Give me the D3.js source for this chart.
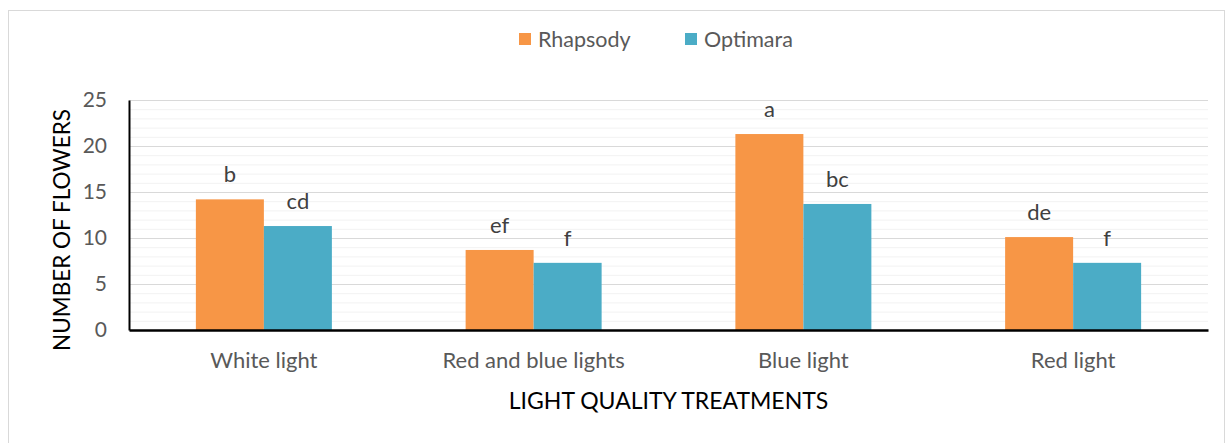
<!DOCTYPE html>
<html><head><meta charset="utf-8">
<script src="https://cdn.jsdelivr.net/npm/d3@7"></script>
<style>body{margin:0;background:#fff}svg{display:block}text{font-family:Lato,"Open Sans",sans-serif}</style>
</head><body>
<svg id="c" width="1226" height="443"></svg>
<script>
const categories = ["White light","Red and blue lights","Blue light","Red light"];
const seriesNames = ["Rhapsody","Optimara"];
const rhapsody = [14.2, 8.7, 21.3, 10.1];
const optimara = [11.3, 7.3, 13.7, 7.3];
const rhapsodyLetters = ["b","ef","a","de"];
const optimaraLetters = ["cd","f","bc","f"];
const yTicks = [0,5,10,15,20,25];
const colors = ["#F79646","#4BACC6"];

const svg = d3.select("#c");
const L=129, R=1208, T=100, B=330;
svg.append("rect").attr("x",8.5).attr("y",10.5).attr("width",1216).attr("height",440)
  .attr("fill","#fff").attr("stroke","#d9d9d9");

const x0 = d3.scaleBand().domain(categories).range([L,R]).paddingInner(0).paddingOuter(0);
const x1 = d3.scaleBand().domain(seriesNames).range([0,136]);
const y = d3.scaleLinear().domain([0,25]).range([B,T]);

svg.append("g").selectAll("line").data(d3.range(1,25).filter(v=>v%5!==0)).join("line")
  .attr("x1",L).attr("x2",R).attr("y1",d=>y(d)+0.5).attr("y2",d=>y(d)+0.5)
  .attr("stroke","#f2f2f2").attr("stroke-width",1);
svg.append("g").selectAll("line").data(yTicks.filter(v=>v>0)).join("line")
  .attr("x1",L).attr("x2",R).attr("y1",d=>y(d)+0.5).attr("y2",d=>y(d)+0.5)
  .attr("stroke","#d9d9d9").attr("stroke-width",1);

const data = categories.map((c,i)=>({c, vals:[
  {s:"Rhapsody",v:rhapsody[i],l:rhapsodyLetters[i]},
  {s:"Optimara",v:optimara[i],l:optimaraLetters[i]}]}));

const groups = svg.append("g").selectAll("g").data(data).join("g")
  .attr("transform",d=>`translate(${x0(d.c)+(x0.bandwidth()-136)/2},0)`);
groups.selectAll("rect").data(d=>d.vals).join("rect")
  .attr("x",d=>x1(d.s)).attr("width",x1.bandwidth())
  .attr("y",d=>y(d.v)).attr("height",d=>B-y(d.v))
  .attr("fill",(d,i)=>colors[i]);
groups.selectAll("text").data(d=>d.vals).join("text")
  .attr("x",d=>x1(d.s)+x1.bandwidth()/2).attr("y",d=>y(d.v)-17)
  .attr("text-anchor","middle").attr("font-size",22).attr("fill","#404040").text(d=>d.l);

const yAxis = d3.axisLeft(y).tickValues(yTicks).tickSize(0).tickPadding(22);
const gy = svg.append("g").attr("transform",`translate(${L},0)`).call(yAxis);
gy.select(".domain").attr("stroke","#000").attr("stroke-width",2);
gy.selectAll("text").attr("font-size",21).attr("fill","#595959").attr("font-family","Lato,sans-serif");

const xAxis = d3.axisBottom(x0).tickSize(0).tickPadding(22);
const gx = svg.append("g").attr("transform",`translate(0,${B})`).call(xAxis);
gx.select(".domain").attr("stroke","#000").attr("stroke-width",2.5);
gx.selectAll("text").attr("font-size",22).attr("fill","#595959").attr("font-family","Lato,sans-serif");

svg.append("text").attr("x",(L+R)/2).attr("y",409).attr("text-anchor","middle")
  .attr("font-size",23).attr("fill","#000").text("LIGHT QUALITY TREATMENTS");
svg.append("text").attr("transform","translate(70,230) rotate(-90)").attr("text-anchor","middle")
  .attr("font-size",22.5).attr("fill","#000").text("NUMBER OF FLOWERS");

const legX=[519,685];
const lg = svg.append("g").selectAll("g").data(seriesNames).join("g")
  .attr("transform",(d,i)=>`translate(${legX[i]},33)`);
lg.append("rect").attr("width",12).attr("height",12).attr("fill",(d,i)=>colors[i]);
lg.append("text").attr("x",19).attr("y",14).attr("font-size",21.5).attr("fill","#595959").text(d=>d);
</script>
</body></html>
